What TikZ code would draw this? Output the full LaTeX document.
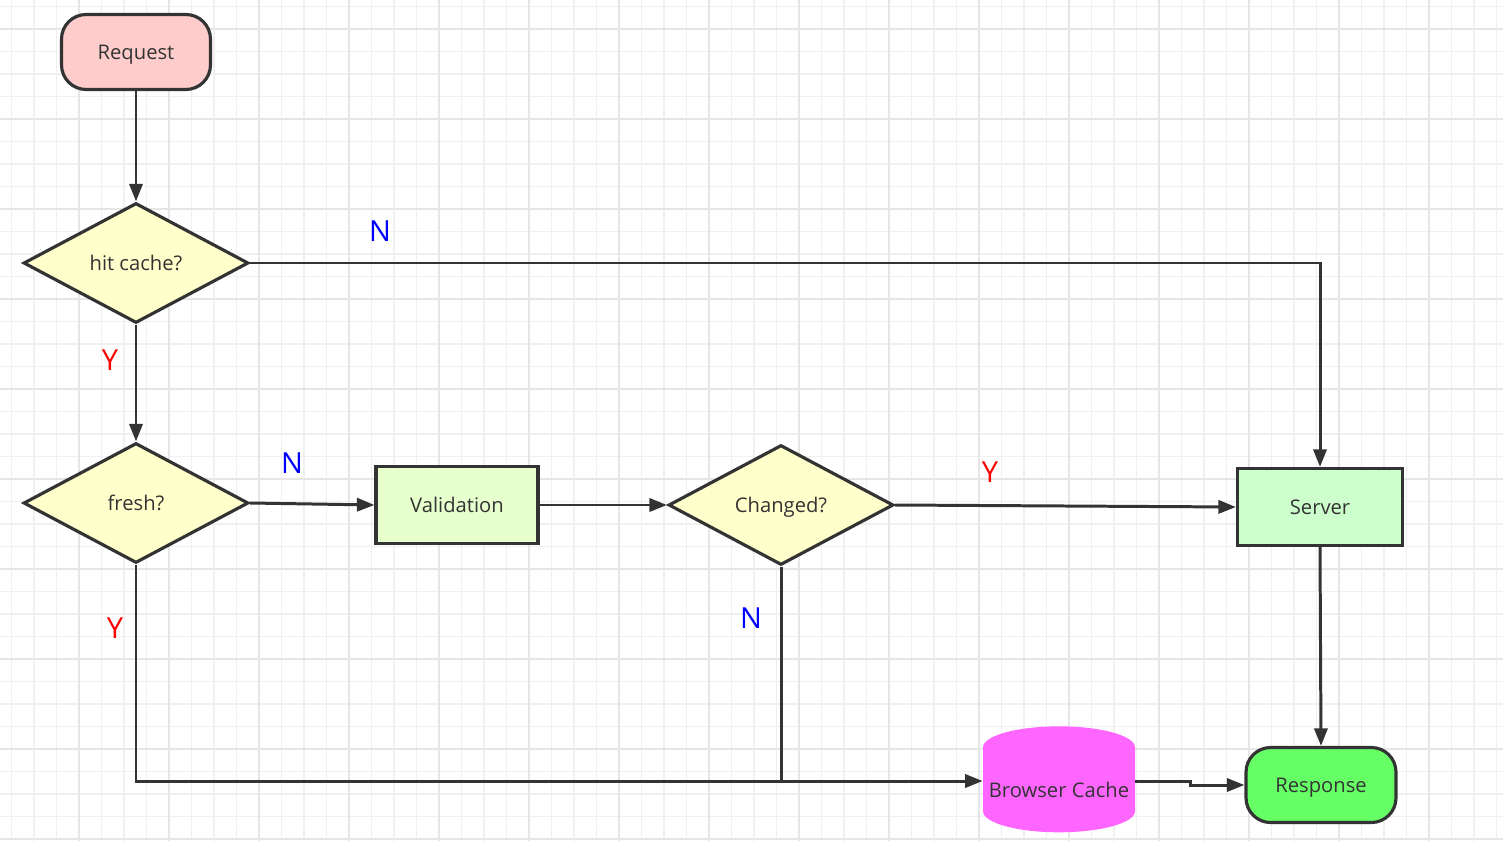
\documentclass[tikz,border=0pt]{standalone}
\usepackage{fontspec}
\setmainfont{Open Sans}
\usetikzlibrary{positioning, shapes.geometric, arrows.meta}
\definecolor{linegray}{HTML}{333333}
\definecolor{gridminor}{HTML}{F0F0F0}
\definecolor{gridmajor}{HTML}{E6E6E6}
\definecolor{startfill}{HTML}{FFCCCC}
\definecolor{askfill}{HTML}{FFFFCC}
\definecolor{validfill}{HTML}{E6FFCC}
\definecolor{serverfill}{HTML}{CCFFCC}
\definecolor{endfill}{HTML}{66FF66}
\definecolor{cachefill}{HTML}{FF66FF}

\begin{document}
\begin{tikzpicture}[x=0.02cm, y=-0.02cm,
  every node/.style={text=linegray, font=\fontsize{11.5}{13}\selectfont, text depth=0pt},
  box/.style={draw=linegray, line width=1.8pt, rectangle, inner sep=0pt},
  terminal/.style={box, rounded corners=14pt, minimum width=2.98cm, minimum height=1.5cm},
  question/.style={draw=linegray, line width=1.8pt, diamond, fill=askfill, inner sep=0pt, minimum width=4.5cm, minimum height=2.4cm},
  yes/.style={text=red, font=\fontsize{16.5}{18}\selectfont},
  no/.style={text=blue, font=\fontsize{16.5}{18}\selectfont},
  flow/.style={draw=linegray, line width=1.7pt, -{Stealth[inset=0pt, length=10pt, width=7.5pt]}},
  merge/.style={draw=linegray, line width=1.7pt}]
\useasboundingbox (0,0) rectangle (1503,841);
% background grid
\foreach \gx in {11.5, 34, ..., 1503} \draw[gridminor, line width=0.6pt] (\gx,0) -- (\gx,841);
\foreach \gy in {6.5, 29, ..., 841} \draw[gridminor, line width=0.6pt] (0,\gy) -- (1503,\gy);
\foreach \gx in {79, 169, ..., 1503} \draw[gridmajor, line width=0.8pt] (\gx,0) -- (\gx,841);
\foreach \gy in {29, 119, ..., 841} \draw[gridmajor, line width=0.8pt] (0,\gy) -- (1503,\gy);

\node[terminal, fill=startfill] (request) at (136,52) {Request};
\node[question] (hit) at (136,263) {hit cache?};
\node[question] (fresh) at (136,503) {fresh?};
\node[box, fill=validfill, minimum width=3.24cm, minimum height=1.54cm] (valid) at (457,505) {Validation};
\node[question] (changed) at (781,505) {Changed?};
\node[box, fill=serverfill, minimum width=3.3cm, minimum height=1.54cm] (server) at (1320,507) {Server};
\node[cylinder, shape border rotate=90, aspect=0.3, fill=cachefill, minimum width=3.04cm, minimum height=2.12cm, inner sep=0pt] (cache) at (1059,790) {Browser Cache};
\node[terminal, fill=endfill, minimum width=3cm] (response) at (1321,785) {Response};
\coordinate (cacheIn) at ([yshift=0.18cm]cache.west);
\coordinate (cacheOut) at ([yshift=0.18cm]cache.east);

\node[no] (hitN) at (380,231) {N};
\node[yes] (hitY) at (110,360) {Y};
\node[no] (freshN) at (292,463) {N};
\node[yes] (freshY) at (115,628) {Y};
\node[yes] (changedY) at (990,472) {Y};
\node[no] (changedN) at (751,618) {N};

\draw[flow] (request.south) -- (hit.north);
\draw[flow] (hit.east) -| (server.north);
\draw[flow] (hit.south) -- (fresh.north);
\draw[flow] (fresh.east) -- (valid.west);
\draw[flow] (valid.east) -- (changed.west);
\draw[flow] (changed.east) -- (server.west);
\draw[flow] (fresh.south) |- (cacheIn);
\draw[merge] (changed.south) -- (changed.south |- cacheIn);
\draw[flow] (server.south) -- (response.north);
\draw[flow] (cacheOut) -- ++(55,0) |- (response.west);
\end{tikzpicture}
\end{document}
